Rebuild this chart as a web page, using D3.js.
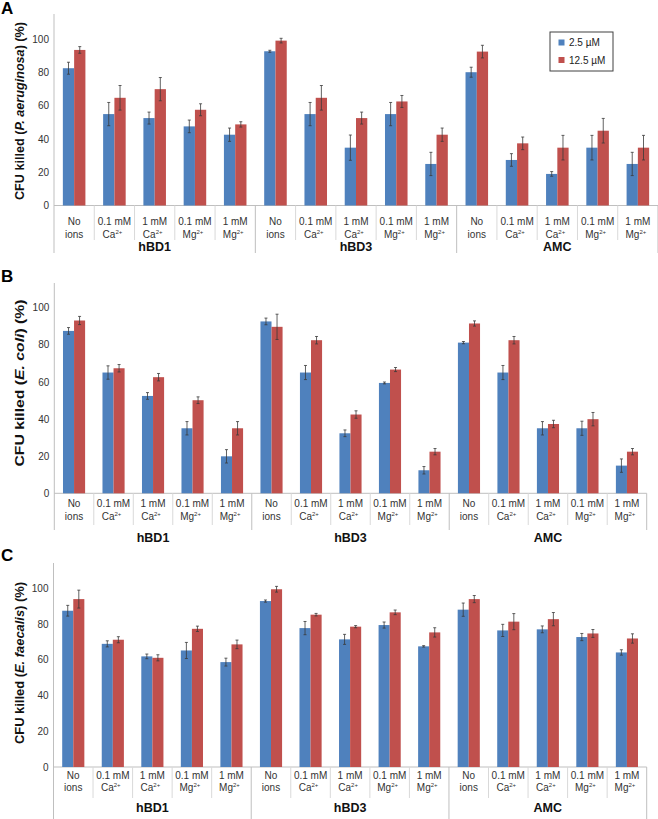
<!DOCTYPE html>
<html><head><meta charset="utf-8">
<script src="https://cdn.jsdelivr.net/npm/d3@7"></script>
<style>
body{margin:0;background:#fff;}
svg{display:block;font-family:"Liberation Sans",Arial,Helvetica,sans-serif;}
</style></head>
<body><svg id="c" width="658" height="819"></svg>
<script>
// ---------- data ----------
const groups = ["hBD1", "hBD3", "AMC"];
const catLine1 = ["No", "0.1 mM", "1 mM", "0.1 mM", "1 mM"];
const catLine2 = ["ions", "Ca", "Ca", "Mg", "Mg"];
const catSup = ["", "2+", "2+", "2+", "2+"];
const seriesNames = ["2.5 µM", "12.5 µM"];
const yTicks = [0, 20, 40, 60, 80, 100];

// Panel A: P. aeruginosa
const aLow = [82.6, 55, 52.6, 47.6, 42.6, 92.8, 55, 34.8, 55, 25, 80.2, 27.4, 19, 34.8, 25];
const aLowErr = [3.6, 7, 3.6, 3.8, 4, 0.6, 7, 7.6, 7, 7, 3, 3.8, 1.4, 7.4, 7];
const aHigh = [93.6, 64.8, 70, 57.6, 48.8, 99.2, 64.8, 52.6, 62.6, 42.6, 92.6, 37.4, 34.8, 45, 34.8];
const aHighErr = [2, 7.4, 7, 3.6, 1.6, 1.4, 7.4, 3.6, 3.6, 4, 3.8, 3.8, 7.4, 7.4, 7.4];

// Panel B: E. coli
const bLow = [87.4, 65, 52.4, 35, 19.9, 92.5, 65, 32.3, 59.4, 12.4, 81.1, 65, 35, 35, 14.9];
const bLowErr = [1.8, 3.6, 1.8, 3.6, 3.6, 1.8, 3.8, 1.8, 0.5, 2, 0.6, 3.8, 3.6, 3.8, 3.6];
const bHigh = [93, 67.3, 62.5, 50.1, 35, 89.6, 82.4, 42.4, 66.6, 22.4, 91.4, 82.4, 37.3, 39.9, 22.4];
const bHighErr = [2.2, 2, 2, 1.8, 3.6, 6.8, 2, 2, 1.1, 1.7, 1.4, 2, 2, 3.6, 1.7];

// Panel C: E. faecalis
const cLow = [87.3, 68.8, 61.8, 65.1, 58.6, 92.7, 77.6, 71.3, 79.3, 67.4, 87.9, 76.3, 76.9, 72.6, 64];
const cLowErr = [3, 1.7, 1.3, 4.5, 2.2, 0.6, 3.7, 2.8, 1.7, 0.4, 3.7, 3.4, 1.9, 2, 1.5];
const cHigh = [93.8, 71.1, 61, 77.2, 68.5, 99.3, 85.1, 78.4, 86.4, 75.2, 93.8, 81.2, 82.6, 74.6, 71.8];
const cHighErr = [5, 1.7, 1.7, 1.5, 2.4, 1.6, 0.7, 0.6, 1.3, 2.6, 2, 4.5, 3.7, 2.2, 2.6];

// ---------- drawing ----------
const colors = ["#4f81bd", "#c0504d"];
const svg = d3.select("#c");

const panels = [
  {letter:"A", species:"P. aeruginosa", low:aLow, lowErr:aLowErr, high:aHigh, highErr:aHighErr,
   x0:54, x1:658, y0:205.5, y100:39.3, axisTop:14, cat1:221.7, cat2:234.3, grp:246.5,
   divBot:240, grpDivBot:253, titleCy:111, titleLen:178, letterY:14, legend:true},
  {letter:"B", species:"E. coli", low:bLow, lowErr:bLowErr, high:bHigh, highErr:bHighErr,
   x0:54.3, x1:646.7, y0:493.3, y100:307.5, axisTop:283, cat1:503, cat2:516.7, grp:537,
   divBot:525, grpDivBot:530, titleCy:383, titleLen:167, letterY:282, legend:false},
  {letter:"C", species:"E. faecalis", low:cLow, lowErr:cLowErr, high:cHigh, highErr:cHighErr,
   x0:53.5, x1:646.7, y0:767, y100:588, axisTop:563, cat1:775, cat2:787.7, grp:807,
   divBot:798, grpDivBot:819, titleCy:663, titleLen:162, letterY:561, legend:false}
];

panels.forEach(p => {
  const g = svg.append("g");
  const n = groups.length * catLine1.length;
  const idx = d3.range(n);
  const x = d3.scaleBand().domain(idx).range([p.x0, p.x1]).paddingInner(0).paddingOuter(0);
  const y = d3.scaleLinear().domain([0, 100]).range([p.y0, p.y100]);
  const bw = x.bandwidth() * 0.28;

  // letter
  g.append("text").attr("x", 1).attr("y", p.letterY).attr("font-size", 17)
    .attr("font-weight", "bold").attr("fill", "#000").text(p.letter);

  // y axis
  const ya = g.append("g").attr("transform", `translate(${p.x0},0)`)
    .call(d3.axisLeft(y).tickValues(yTicks).tickSize(0).tickPadding(5));
  ya.select(".domain").remove();
  ya.selectAll("text").attr("font-size", 10).attr("fill", "#333")
    .attr("font-family", '"Liberation Sans",Arial,sans-serif');

  // axis lines
  g.append("line").attr("x1", p.x0).attr("x2", p.x0).attr("y1", p.axisTop).attr("y2", p.grpDivBot)
    .attr("stroke", "#bfbfbf").attr("stroke-width", 1);
  g.append("line").attr("x1", p.x0).attr("x2", p.x1).attr("y1", p.y0).attr("y2", p.y0)
    .attr("stroke", "#bfbfbf").attr("stroke-width", 1);

  // dividers
  idx.forEach(i => {
    const xr = x(i) + x.bandwidth();
    const isGroupEnd = (i + 1) % catLine1.length === 0;
    g.append("line").attr("x1", xr).attr("x2", xr).attr("y1", p.y0)
      .attr("y2", isGroupEnd ? p.grpDivBot : p.divBot)
      .attr("stroke", isGroupEnd ? "#bfbfbf" : "#d9d9d9").attr("stroke-width", 1);
  });

  // bars
  const series = [
    {vals: p.low, errs: p.lowErr, off: -bw},
    {vals: p.high, errs: p.highErr, off: 0}
  ];
  series.forEach((s, si) => {
    g.append("g").selectAll("rect").data(idx).join("rect")
      .attr("x", i => x(i) + x.bandwidth() / 2 + s.off)
      .attr("y", i => y(s.vals[i]))
      .attr("width", bw)
      .attr("height", i => y(0) - y(s.vals[i]))
      .attr("fill", colors[si]);
  });
  // error bars
  series.forEach(s => {
    const eg = g.append("g").attr("stroke", "#3a3a3a").attr("stroke-width", 0.8);
    idx.forEach(i => {
      const cx = x(i) + x.bandwidth() / 2 + s.off + bw / 2;
      const top = y(s.vals[i] + s.errs[i]), bot = y(s.vals[i] - s.errs[i]);
      eg.append("line").attr("x1", cx).attr("x2", cx).attr("y1", top).attr("y2", bot);
      eg.append("line").attr("x1", cx - 1.5).attr("x2", cx + 1.5).attr("y1", top).attr("y2", top);
      eg.append("line").attr("x1", cx - 1.5).attr("x2", cx + 1.5).attr("y1", bot).attr("y2", bot);
    });
  });

  // category labels
  idx.forEach(i => {
    const k = i % catLine1.length;
    const cx = x(i) + x.bandwidth() / 2;
    g.append("text").attr("x", cx).attr("y", p.cat1 + 3.5).attr("text-anchor", "middle")
      .attr("font-size", 10).attr("fill", "#333").text(catLine1[k]);
    const t = g.append("text").attr("x", cx + (catSup[k] ? -2 : 0)).attr("y", p.cat2 + 3.5)
      .attr("text-anchor", "middle").attr("font-size", 10).attr("fill", "#333");
    t.append("tspan").text(catLine2[k]);
    if (catSup[k]) {
      t.append("tspan").attr("font-size", 6).attr("dy", -4).text(catSup[k]);
    }
  });

  // group labels
  groups.forEach((gn, gi) => {
    const a = x(gi * catLine1.length), b = x(gi * catLine1.length + catLine1.length - 1) + x.bandwidth();
    g.append("text").attr("x", (a + b) / 2).attr("y", p.grp + 4.5).attr("text-anchor", "middle")
      .attr("font-size", 12.5).attr("font-weight", "bold").attr("fill", "#111").text(gn);
  });

  // y title
  const tt = g.append("text").attr("transform", `translate(${20},${p.titleCy}) rotate(-90)`)
    .attr("text-anchor", "middle").attr("dy", "0.35em").attr("font-size", 12.5)
    .attr("font-weight", "bold").attr("fill", "#111")
    .attr("textLength", p.titleLen).attr("lengthAdjust", "spacingAndGlyphs");
  tt.append("tspan").text("CFU killed (");
  tt.append("tspan").attr("font-style", "italic").text(p.species);
  tt.append("tspan").text(") (%)");

  // legend
  if (p.legend) {
    const lg = g.append("g");
    lg.append("rect").attr("x", 550).attr("y", 32).attr("width", 63).attr("height", 39)
      .attr("fill", "#fff").attr("stroke", "#404040").attr("stroke-width", 1);
    seriesNames.forEach((sn, si) => {
      lg.append("rect").attr("x", 558.5).attr("y", 39.5 + si * 17.5).attr("width", 6).attr("height", 6)
        .attr("fill", colors[si]);
      lg.append("text").attr("x", 569).attr("y", 46.3 + si * 17.5).attr("font-size", 10)
        .attr("fill", "#222").text(sn);
    });
  }
});
</script></body></html>
